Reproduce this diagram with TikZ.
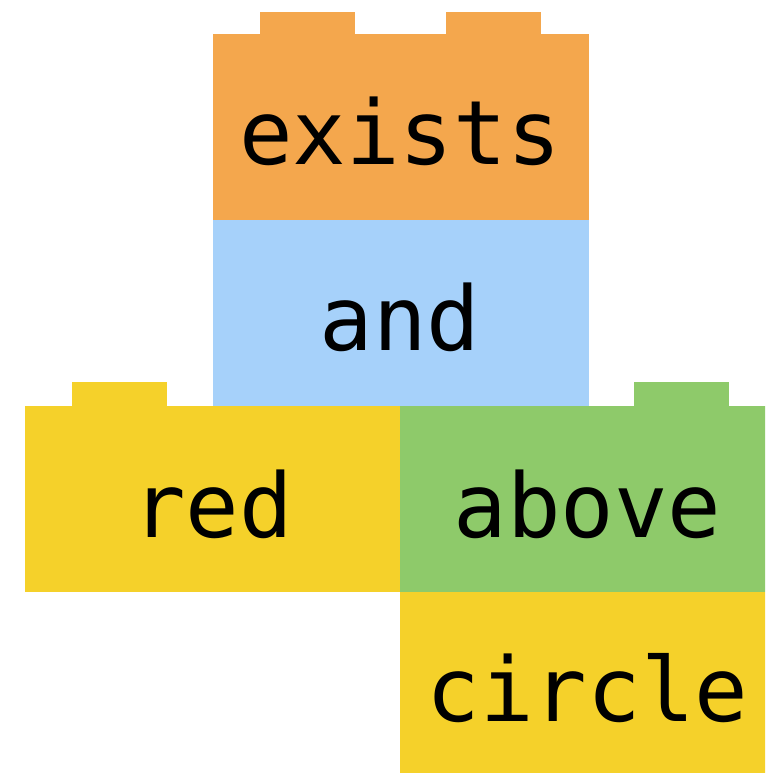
\documentclass[tikz,border=0pt]{standalone}
\usepackage{fontspec}
\newfontfamily\blockfont{DejaVu Sans Mono}
\definecolor{brickorange}{HTML}{F4A74D}
\definecolor{brickblue}{HTML}{A6D1FA}
\definecolor{brickyellow}{HTML}{F5D12A}
\definecolor{brickgreen}{HTML}{8ECA6A}
\tikzset{
  word/.style={anchor=base, inner sep=0pt, font=\blockfont\fontsize{89}{100}\selectfont, text=black},
}
\begin{document}
\begin{tikzpicture}[x=1pt,y=-1pt]
\clip (0,0) rectangle (765,773);
\fill[white] (0,0) rectangle (765,773);
% circle block
\fill[brickyellow] (400,591.7) rectangle (775,773);
% above block
\fill[brickgreen] (400,406) rectangle (775,591.7);
\fill[brickgreen] (634,382) rectangle (729,406);
% red block
\fill[brickyellow] (25,406) rectangle (400,591.7);
\fill[brickyellow] (72,382) rectangle (167,406);
% and block
\fill[brickblue] (213,219.7) rectangle (589,406);
% exists block
\fill[brickorange] (213,34) rectangle (589,219.7);
\fill[brickorange] (260,12) rectangle (355,34);
\fill[brickorange] (446,12) rectangle (541,34);
% words
\node[word] (exists) at (400,164) {exists};
\node[word] (and) at (400,350) {and};
\node[word] (red) at (212.5,537.7) {red};
\node[word] (above) at (587.5,537.7) {above};
\node[word] (circle) at (587.5,721) {circle};
\end{tikzpicture}
\end{document}
